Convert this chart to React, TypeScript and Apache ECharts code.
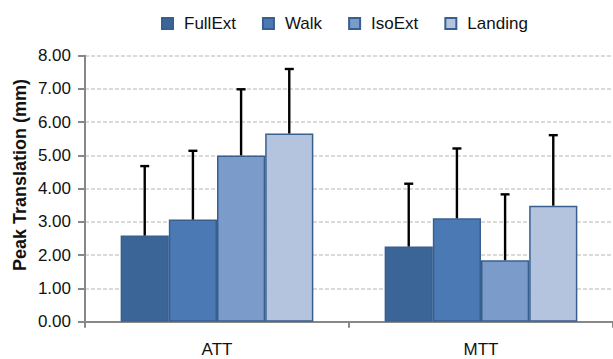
import React, { useEffect, useRef } from "react";
import * as echarts from "echarts";

// Peak translation by task (mean with upward SD whiskers)
const categories = ["ATT", "MTT"];
const seriesNames = ["FullExt", "Walk", "IsoExt", "Landing"];
const fullExtMean = [2.59, 2.26];
const walkMean = [3.07, 3.11];
const isoExtMean = [5.0, 1.85];
const landingMean = [5.66, 3.49];
const fullExtUpper = [4.68, 4.15];
const walkUpper = [5.14, 5.21];
const isoExtUpper = [6.99, 3.83];
const landingUpper = [7.6, 5.61];
const yTicks = [0, 1, 2, 3, 4, 5, 6, 7, 8];
const yTitle = "Peak Translation (mm)";

const colors = ["#3c6597", "#4a79b4", "#7b9cca", "#b4c3de"];
const borderColor = "#38608f";
const FONT = "Liberation Sans, Arial, sans-serif";
const CATEGORY_GAP = 0.27;

export default function App() {
  const ref = useRef<HTMLDivElement>(null);

  useEffect(() => {
    if (!ref.current) return;
    const chart = echarts.init(ref.current, null, { renderer: "svg" });
    const means = [fullExtMean, walkMean, isoExtMean, landingMean];
    const uppers = [fullExtUpper, walkUpper, isoExtUpper, landingUpper];

    const barSeries = seriesNames.map((name, i) => ({
      name,
      type: "bar",
      data: means[i],
      barGap: "0%",
      barCategoryGap: `${CATEGORY_GAP * 100}%`,
      itemStyle: { color: colors[i], borderColor, borderWidth: 1.5 },
      z: 2,
    }));

    const n = seriesNames.length;
    const errorSeries = seriesNames.map((name, i) => ({
      name: name + "-sd",
      type: "custom",
      data: categories.map((_, c) => [c, means[i][c], uppers[i][c]]),
      z: 5,
      silent: true,
      renderItem: (_params: any, api: any) => {
        const c = api.value(0);
        const base = api.coord([c, api.value(1)]);
        const top = api.coord([c, api.value(2)]);
        const band = api.size([1, 0])[0];
        const bw = (band * (1 - CATEGORY_GAP)) / n;
        const x = base[0] + (i - (n - 1) / 2) * bw;
        const style = { stroke: "#000", lineWidth: 2.4 };
        return {
          type: "group",
          children: [
            { type: "line", shape: { x1: x, y1: base[1], x2: x, y2: top[1] }, style },
            { type: "line", shape: { x1: x - 4.5, y1: top[1], x2: x + 4.5, y2: top[1] }, style },
          ],
        };
      },
    }));

    chart.setOption({
      animation: false,
      textStyle: { fontFamily: FONT },
      legend: {
        data: seriesNames,
        left: 156,
        top: 10,
        icon: "rect",
        itemWidth: 11,
        itemHeight: 11,
        itemGap: 26,
        textStyle: { fontSize: 17, color: "#111", fontFamily: FONT, padding: [0, 0, 0, 6] },
      },
      grid: { left: 85, right: 0, top: 55.7, bottom: 37.3 },
      graphic: [
        {
          type: "text",
          x: 20,
          y: 175,
          rotation: Math.PI / 2,
          style: {
            text: yTitle,
            align: "center",
            verticalAlign: "middle",
            fontSize: 18,
            fontWeight: "bold",
            fontFamily: FONT,
            fill: "#111",
          },
        },
      ],
      xAxis: {
        type: "category",
        data: categories,
        boundaryGap: true,
        axisLine: { lineStyle: { color: "#888", width: 2 } },
        axisTick: { show: true, length: 6, lineStyle: { color: "#888", width: 2 } },
        axisLabel: { fontSize: 17, color: "#111", margin: 19, fontFamily: FONT },
      },
      yAxis: {
        type: "value",
        min: yTicks[0],
        max: yTicks[yTicks.length - 1],
        interval: 1,
        axisLine: { show: true, lineStyle: { color: "#888", width: 2 } },
        axisTick: { show: true, length: 7, lineStyle: { color: "#888", width: 2 } },
        axisLabel: {
          fontSize: 17,
          color: "#111",
          margin: 14,
          fontFamily: FONT,
          formatter: (v: number) => v.toFixed(2),
        },
        splitLine: { lineStyle: { color: "#dadada", width: 2, type: [4, 2] } },
      },
      series: [...barSeries, ...errorSeries],
    });
    return () => chart.dispose();
  }, []);

  return (
    <div
      ref={ref}
      style={{ position: "absolute", left: 0, top: 0, width: 613, height: 359, background: "#fff" }}
    />
  );
}
